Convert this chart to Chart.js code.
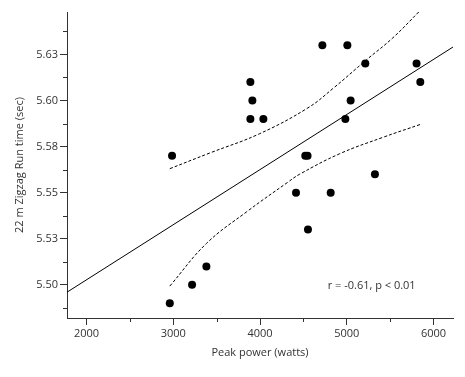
<!DOCTYPE html>
<html>
<head>
<meta charset="utf-8">
<script src="https://cdn.jsdelivr.net/npm/chart.js@4.4.0/dist/chart.umd.min.js"></script>
<style>
  html, body { margin: 0; padding: 0; background: #fff; }
  #wrap { width: 465px; height: 377px; }
</style>
</head>
<body>
<div id="wrap"><canvas id="chart"></canvas></div>
<script>
// ---- data ----
const powerW  = [2960, 3217, 3382, 2986, 3889, 3912, 3889, 4039, 4522, 4548, 4415,
                 4815, 4553, 4719, 5007, 4984, 5045, 5214, 5325, 5805, 5848];
const runTime = [5.49, 5.50, 5.51, 5.57, 5.61, 5.60, 5.59, 5.59, 5.57, 5.57, 5.55,
                 5.55, 5.53, 5.63, 5.63, 5.59, 5.60, 5.62, 5.56, 5.62, 5.61];

// regression line end points
const fitX = [1775, 6225];
const fitY = [5.496, 5.629];

// 95% confidence band (dashed)
const upperX = [2960, 3421, 3997, 4553, 4841, 5226, 5532, 5830];
const upperY = [5.563, 5.5715, 5.582, 5.596, 5.6065, 5.622, 5.634, 5.648];
const lowerX = [2960, 3382, 3843, 4316, 4457, 4918, 5417, 5848];
const lowerY = [5.4993, 5.5224, 5.5395, 5.5555, 5.5600, 5.5711, 5.580, 5.587];

// ticks
const xMajor = [2000, 3000, 4000, 5000, 6000];
const xMinor = [2500, 3500, 4500, 5500];
const yMajor = [5.500, 5.525, 5.550, 5.575, 5.600, 5.625];
const yMajorLabels = ['5.50', '5.53', '5.55', '5.58', '5.60', '5.63'];
const yMinor = [5.4875, 5.5125, 5.5375, 5.5625, 5.5875, 5.6125, 5.6375];

const toPts = (xs, ys) => xs.map((x, i) => ({ x, y: ys[i] }));

const FONT = { family: "'Open Sans', 'DejaVu Sans', sans-serif", size: 11 };
const TEXT = '#333';
const AXIS = '#333';

// short minor tick marks + r/p note
const extras = {
  id: 'extras',
  afterDraw(chart) {
    const { ctx, scales: { x, y } } = chart;
    ctx.save();
    ctx.strokeStyle = AXIS;
    ctx.lineWidth = 1;
    ctx.beginPath();
    xMinor.forEach(v => {
      const px = Math.round(x.getPixelForValue(v)) + 0.5;
      ctx.moveTo(px, x.top); ctx.lineTo(px, x.top + 4);
    });
    yMinor.forEach(v => {
      const py = Math.round(y.getPixelForValue(v)) + 0.5;
      ctx.moveTo(y.right, py); ctx.lineTo(y.right - 4, py);
    });
    ctx.stroke();

    ctx.fillStyle = TEXT;
    ctx.font = `${FONT.size}px ${FONT.family}`;
    ctx.textAlign = 'left';
    ctx.textBaseline = 'middle';
    ctx.fillText('r = -0.61, p < 0.01', x.getPixelForValue(4780), y.getPixelForValue(5.4993));
    ctx.restore();
  }
};

const bandStyle = {
  showLine: true,
  tension: 0.4,
  borderColor: '#000',
  borderWidth: 1,
  borderDash: [3, 2],
  pointRadius: 0,
  order: 2,
};

new Chart(document.getElementById('chart'), {
  type: 'scatter',
  data: {
    datasets: [
      {
        label: 'Subjects',
        data: toPts(powerW, runTime),
        backgroundColor: '#000',
        borderColor: '#000',
        pointRadius: 4,
        borderWidth: 0,
        order: 0,
      },
      {
        label: 'Fit',
        data: toPts(fitX, fitY),
        showLine: true,
        borderColor: '#000',
        borderWidth: 1,
        pointRadius: 0,
        order: 1,
      },
      { label: 'Upper CI', data: toPts(upperX, upperY), ...bandStyle },
      { label: 'Lower CI', data: toPts(lowerX, lowerY), ...bandStyle }
    ]
  },
  options: {
    responsive: true,
    maintainAspectRatio: false,
    animation: false,
    layout: { padding: { top: 12, right: 12, left: 0, bottom: 0 } },
    plugins: { legend: { display: false }, tooltip: { enabled: false } },
    scales: {
      x: {
        type: 'linear',
        min: 1775, max: 6225,
        afterBuildTicks: s => { s.ticks = xMajor.map(v => ({ value: v })); },
        afterFit: s => { s.height = 59; },
        ticks: { color: TEXT, font: FONT, padding: 2, maxRotation: 0, callback: v => String(v) },
        grid: { drawOnChartArea: false, tickLength: 7, tickColor: AXIS },
        border: { color: AXIS, width: 1 },
        title: { display: true, text: 'Peak power (watts)', color: TEXT, font: FONT, padding: { top: 0, bottom: 18 } }
      },
      y: {
        type: 'linear',
        min: 5.482, max: 5.648,
        afterBuildTicks: s => { s.ticks = yMajor.map(v => ({ value: v })); },
        afterFit: s => { s.width = 67; },
        ticks: { color: TEXT, font: FONT, padding: 2, callback: (v, i) => yMajorLabels[i] },
        grid: { drawOnChartArea: false, tickLength: 7, tickColor: AXIS },
        border: { color: AXIS, width: 1 },
        title: { display: true, text: '22 m Zigzag Run time (sec)', color: TEXT, font: FONT, padding: { top: 13, bottom: 0 } }
      }
    }
  },
  plugins: [extras]
});
</script>
</body>
</html>
